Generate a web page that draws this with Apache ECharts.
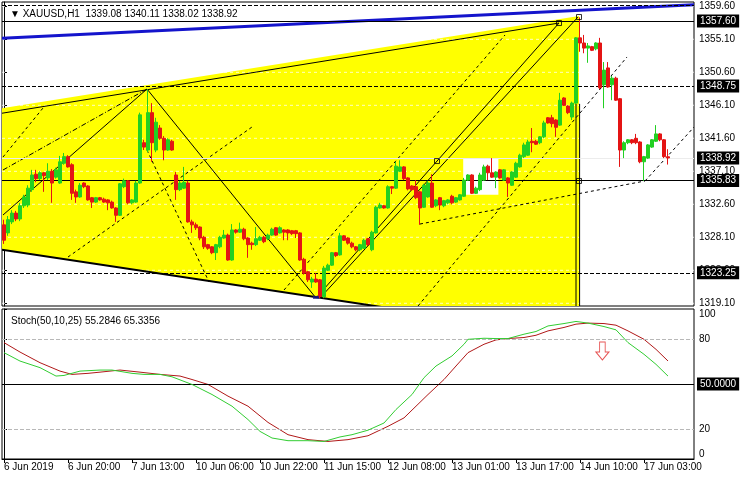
<!DOCTYPE html>
<html><head><meta charset="utf-8">
<script src="https://cdn.jsdelivr.net/npm/echarts@6/dist/echarts.min.js"></script>
<style>html,body{margin:0;padding:0;background:#fff}#c{width:740px;height:480px}</style>
</head><body><div id="c"></div>
<script>
// ---------- DATA ----------
const openP = [1329.8,1328.7,1330.2,1331.4,1330.6,1332.4,1332.5,1334.6,1336.7,1336.1,
 1336.9,1336.2,1337.1,1336.3,1335.5,1338.2,1339.1,1338.0,1334.3,1333.6,
 1335.5,1335.1,1333.5,1332.9,1333.5,1333.3,1333.2,1332.9,1332.1,1331.1,
 1335.0,1335.8,1332.8,1332.9,1335.5,1341.0,1340.0,1345.1,1340.0,1343.0,
 1341.6,1340.0,1341.2,1336.6,1334.6,1334.8,1335.5,1330.2,1329.8,1329.5,
 1328.1,1327.1,1326.8,1326.0,1326.8,1328.0,1328.4,1325.0,1329.1,1328.8,
 1329.2,1328.0,1327.3,1327.1,1327.7,1328.1,1327.9,1328.4,1329.4,1328.7,
 1329.1,1329.1,1329.0,1329.0,1328.7,1325.1,1323.4,1322.0,1322.4,1322.3,
 1320.0,1323.6,1324.3,1326.0,1325.7,1328.3,1328.0,1327.3,1326.8,1326.4,
 1326.6,1327.9,1326.4,1328.7,1332.1,1332.4,1332.1,1335.0,1334.8,1337.1,
 1337.7,1336.2,1335.1,1335.0,1334.3,1332.2,1333.6,1335.5,1332.4,1333.5,
 1332.4,1332.8,1333.7,1332.9,1333.2,1333.7,1335.9,1336.6,1334.1,1334.6,
 1335.9,1337.8,1336.9,1336.3,1337.3,1335.9,1336.2,1335.2,1336.3,1337.7,
 1339.1,1339.3,1341.2,1341.2,1341.0,1341.8,1344.4,1344.4,1344.1,1343.4,
 1347.1,1346.0,1344.5,1346.4,1355.3,1354.6,1353.9,1354.1,1353.8,1354.6,
 1348.9,1351.2,1348.9,1349.8,1347.0,1340.0,1341.0,1341.4,1341.6,1341.1,
 1338.4,1338.9,1340.4,1341.2,1342.2,1341.4,1339.08];
const closeP = [1327.7,1330.5,1331.4,1330.6,1332.4,1333.6,1334.8,1336.6,1336.1,1336.9,
 1336.5,1337.1,1335.5,1337.3,1338.4,1339.1,1337.7,1334.1,1333.6,1335.2,
 1335.0,1333.2,1332.9,1333.5,1333.2,1332.9,1332.8,1332.1,1331.1,1335.4,
 1335.8,1332.8,1333.2,1335.5,1344.8,1340.4,1345.1,1341.0,1343.8,1341.6,
 1340.0,1341.4,1340.0,1334.6,1335.5,1335.6,1330.2,1329.8,1329.4,1328.0,
 1326.8,1326.6,1326.0,1327.1,1328.1,1328.4,1325.0,1329.1,1328.8,1329.2,
 1327.9,1327.1,1327.1,1327.9,1328.1,1327.5,1328.4,1329.2,1328.4,1329.4,
 1328.8,1328.7,1328.6,1328.6,1325.0,1323.2,1322.3,1322.4,1322.0,1320.0,
 1323.9,1324.3,1326.0,1325.6,1328.3,1327.7,1327.3,1326.8,1326.4,1327.1,
 1327.7,1327.1,1328.8,1332.2,1332.5,1332.1,1335.0,1334.8,1337.8,1337.7,
 1336.1,1334.7,1334.6,1333.5,1332.1,1335.2,1335.5,1332.2,1333.2,1332.5,
 1333.1,1333.2,1332.8,1333.5,1333.9,1335.9,1336.6,1334.1,1334.8,1336.6,
 1337.7,1336.9,1336.3,1337.0,1336.2,1337.3,1335.5,1337.0,1338.2,1339.3,
 1340.7,1341.1,1341.0,1340.8,1341.8,1343.7,1343.7,1343.6,1343.1,1346.8,
 1346.1,1345.1,1346.4,1355.3,1354.6,1353.9,1354.2,1353.6,1354.6,1348.5,
 1350.9,1348.6,1349.8,1346.8,1340.0,1341.0,1341.4,1341.0,1341.0,1338.4,
 1339.1,1340.7,1341.4,1342.2,1341.4,1339.1,1338.92];
const lowP = [1327.2,1328.3,1329.9,1330.3,1330.3,1332.1,1332.2,1334.3,1335.6,1335.9,
 1334.3,1335.9,1332.8,1336.1,1335.4,1338.0,1337.6,1333.2,1332.8,1333.5,
 1334.8,1333.1,1332.1,1332.8,1333.1,1332.8,1331.8,1332.0,1330.2,1331.0,
 1334.8,1332.6,1332.6,1332.8,1335.4,1340.0,1339.7,1338.4,1339.7,1341.4,
 1338.6,1339.9,1339.9,1333.2,1334.4,1334.7,1330.1,1328.7,1329.1,1327.7,
 1326.5,1326.4,1325.8,1325.0,1326.6,1327.9,1324.9,1324.9,1328.6,1328.7,
 1327.7,1325.3,1326.4,1326.9,1327.6,1327.3,1327.7,1328.3,1328.3,1328.6,
 1327.7,1327.7,1328.4,1328.0,1324.9,1323.0,1322.0,1321.2,1321.9,1319.8,
 1319.8,1323.5,1324.2,1325.4,1325.6,1327.6,1327.1,1326.6,1326.2,1326.2,
 1326.5,1326.9,1326.2,1328.6,1332.0,1332.0,1332.0,1334.0,1334.7,1337.0,
 1335.9,1334.5,1334.4,1333.3,1329.8,1332.1,1333.5,1332.1,1332.2,1331.8,
 1332.2,1332.6,1332.6,1332.8,1333.1,1333.6,1335.8,1334.0,1334.0,1334.4,
 1335.8,1335.9,1336.2,1334.8,1336.1,1335.8,1333.6,1335.1,1336.2,1337.6,
 1338.9,1339.2,1339.7,1340.7,1340.8,1341.6,1343.6,1343.1,1341.8,1343.3,
 1346.0,1344.9,1344.1,1346.3,1353.4,1353.2,1351.9,1353.5,1353.6,1348.3,
 1345.7,1348.5,1346.8,1346.7,1337.7,1338.9,1340.8,1340.8,1340.8,1338.2,
 1335.8,1338.8,1340.3,1341.1,1341.2,1338.9,1338.02];
const highP = [1330.5,1331.0,1331.8,1331.7,1332.8,1333.9,1335.2,1337.3,1337.3,1337.1,
 1337.0,1338.2,1337.4,1337.6,1339.2,1339.6,1339.3,1338.2,1334.6,1335.5,
 1335.6,1335.2,1333.6,1333.6,1333.6,1333.5,1333.3,1333.1,1332.2,1335.5,
 1336.1,1335.9,1333.3,1335.8,1345.1,1341.4,1348.3,1346.4,1344.4,1343.4,
 1341.9,1341.6,1341.4,1337.0,1335.8,1337.7,1335.8,1330.5,1330.1,1329.6,
 1328.3,1327.2,1326.9,1327.2,1328.3,1329.1,1328.6,1329.9,1329.2,1330.1,
 1329.4,1328.1,1327.5,1329.5,1328.3,1328.3,1328.6,1329.4,1329.5,1329.6,
 1329.2,1329.2,1329.1,1329.1,1328.8,1325.3,1323.5,1322.7,1323.2,1322.4,
 1324.2,1324.5,1326.1,1326.1,1328.7,1328.4,1328.1,1327.5,1326.9,1327.2,
 1327.9,1328.0,1329.0,1332.4,1332.8,1332.5,1335.2,1335.1,1338.4,1338.6,
 1337.8,1336.3,1335.2,1335.9,1334.4,1335.4,1335.8,1336.7,1333.3,1333.6,
 1333.2,1333.3,1333.9,1333.6,1334.0,1336.2,1336.7,1336.7,1335.0,1336.9,
 1338.0,1338.0,1338.9,1337.1,1337.4,1337.4,1336.3,1337.1,1338.4,1339.5,
 1341.0,1341.4,1343.0,1341.4,1341.9,1344.0,1344.5,1344.8,1344.2,1347.8,
 1347.2,1346.1,1346.6,1355.4,1358.1,1355.7,1354.6,1354.2,1354.7,1355.3,
 1352.0,1352.0,1350.1,1350.0,1347.1,1341.2,1341.5,1341.5,1342.2,1341.2,
 1339.2,1340.8,1341.5,1343.4,1342.3,1341.5,1340.11];

const barSlots = 173; // 167 bars + right shift space
const priceTicks = [1319.10,1323.60,1328.10,1332.60,1337.10,1341.60,1346.10,1350.60,1355.10,1359.60];
const timeTickBars = [0,16,32,48,64,80,96,112,128,144,160];
const timeTickLabels = ['6 Jun 2019','6 Jun 20:00','7 Jun 13:00','10 Jun 06:00','10 Jun 22:00',
  '11 Jun 15:00','12 Jun 08:00','13 Jun 01:00','13 Jun 17:00','14 Jun 10:00','17 Jun 03:00'];

// Stochastic (50,10,25): main (%K) and signal (%D), read at sampled bars
const stochKBars = [0,4,9,13,15,19,24,27,32,35,39,42,47,52,57,61,64,67,71,76,80,84,87,91,95,98,102,105,108,112,115,116,120,123,126,130,133,136,140,143,146,150,153,156,160,163,166];
const stochK =     [70.9,65.3,60.9,55.3,55.7,58.6,59.3,59.3,57.1,56.4,56.4,54.8,49.7,43.0,35.2,26.3,18.4,14.0,12.2,12.2,11.7,14.7,16.2,19.2,24.0,33.0,43.0,54.2,62.0,68.7,76.5,79.8,80.5,80.3,80.3,83.2,85.0,88.7,90.3,91.7,90.6,88.3,86.1,77.6,69.8,63.1,55.28];
const stochDBars = [0,4,9,14,17,21,24,29,34,39,44,47,51,56,61,66,71,76,81,86,91,96,100,103,106,110,113,116,120,123,126,130,133,136,140,143,146,150,153,156,160,163,166];
const stochD =     [77.6,71.3,64.2,58.6,56.4,57.1,57.9,59.3,57.9,56.4,55.3,53.0,49.7,41.9,35.2,24.4,16.2,12.9,11.7,12.9,15.5,21.8,27.4,35.2,43.0,53.0,62.0,70.9,76.5,79.4,80.3,81.0,82.5,85.4,87.7,89.9,90.6,90.3,89.2,85.4,79.8,73.1,65.34];
const stochLevels = [20, 50, 80];

// Horizontal price lines (objects)
const hLines = [
  {price:1359.70, type:'dashed', color:'#000', label:null},
  {price:1357.60, type:'solid',  color:'#000', label:'1357.60'},
  {price:1348.75, type:'dashed', color:'#000', label:'1348.75'},
  {price:1338.92, type:'solid',  color:'#ececec', label:'1338.92'},
  {price:1335.83, type:'solid',  color:'#000', label:'1335.83'},
  {price:1323.25, type:'dashed', color:'#000', label:'1323.25'}
];

// Drawn objects in [bar, price]
const yellowZone = [[-0.5,1345.71],[143.75,1358.28],[143.75,1317.0],[113.8,1317.0],[-0.5,1326.39]];
const whiteBox = [[114.8,1338.9],[123.6,1338.9],[123.6,1333.9],[114.8,1333.9]];
const blueLine = [[[-0.5,1355.25],[172.5,1359.8]]];
const solidThin = [
  [[-0.5,1345.02],[138.75,1357.32]],
  [[-0.25,1331.14],[35.75,1348.32]],
  [[35.75,1348.32],[78,1319.82]],
  [[78,1319.82],[138.75,1357.32]],
  [[79,1319.82],[143.5,1358.14]],
  [[143.0,1346.3],[143.0,1317.0]],
  [[143.9,1346.3],[143.9,1317.0]]
];
const solidThick = [[[-0.5,1326.39],[113.8,1317.0]]];
const dashedLines = [
  [[35.75,1340.0],[51.25,1322.0]],
  [[16,1325.41],[62,1343.14]],
  [[-0.25,1339.05],[9.75,1345.73]],
  [[70,1320.91],[125.25,1355.69]],
  [[103.5,1318.73],[155.75,1352.69]],
  [[160.25,1335.78],[172.75,1343.28]],
  [[104,1329.91],[160.25,1335.78]]
];
const dashDotLines = [[[-0.25,1337.28],[35.75,1348.32]]];
const squareMarks = [[108.25,1338.5],[138.75,1357.32],[143.75,1358.14],[143.75,1335.78]];
const lowMark = [[78,1319.9]];
const arrowMark = [[149.6,72]];

// ---------- CHART ----------
const FONT = 'Liberation Sans, Arial, sans-serif';
const chart = echarts.init(document.getElementById('c'), null, {renderer:'canvas'});
const candles = openP.map((o,i)=>[o, closeP[i], lowP[i], highP[i]]);
const cats = Array.from({length:barSlots}, (_,i)=>String(i));

function segSeries(segs, style, z){
  return {type:'custom', xAxisIndex:1, yAxisIndex:0, z:z, clip:true, silent:true, animation:false,
    data: segs.map(s=>[s[0][0],s[0][1],s[1][0],s[1][1]]),
    encode:{x:[0,2], y:[1,3]},
    renderItem:(params, api)=>{
      const a = api.coord([api.value(0), api.value(1)]);
      const b = api.coord([api.value(2), api.value(3)]);
      return {type:'line', shape:{x1:a[0],y1:a[1],x2:b[0],y2:b[1]}, style:Object.assign({fill:null}, style)};
    }};
}
function polySeries(points, fill, z){
  return {type:'custom', xAxisIndex:1, yAxisIndex:0, z:z, clip:true, silent:true, animation:false,
    data:[[points[0][0], points[0][1]]],
    renderItem:(params, api)=>({type:'polygon', shape:{points: points.map(p=>api.coord(p))}, style:{fill:fill}})};
}
const gridSegs = priceTicks.map(p=>[[-0.5,p],[172.5,p]]);

const option = {
  animation:false,
  backgroundColor:'#fff',
  title:[
    {text:'▼ XAUUSD,H1  1339.08 1340.11 1338.02 1338.92', left:5, top:4,
     textStyle:{fontSize:10, fontWeight:'normal', color:'#000', fontFamily:FONT}},
    {text:'Stoch(50,10,25) 55.2846 65.3356', left:6, top:311,
     textStyle:{fontSize:10, fontWeight:'normal', color:'#000', fontFamily:FONT}}
  ],
  grid:[
    {left:2, top:2, width:692, height:304, show:true, borderColor:'#000', borderWidth:1, backgroundColor:'#fff'},
    {left:2, top:309, width:692, height:150, show:true, borderColor:'#000', borderWidth:1, backgroundColor:'#fff'}
  ],
  xAxis:[
    {type:'category', gridIndex:0, data:cats, boundaryGap:true, axisLine:{show:false}, axisTick:{show:false}, axisLabel:{show:false}, splitLine:{show:false}},
    {type:'value', gridIndex:0, min:-0.5, max:172.5, show:false},
    {type:'value', gridIndex:1, min:-0.5, max:172.5,
     axisLine:{show:true, lineStyle:{color:'#000'}},
     axisTick:{show:true, customValues:timeTickBars, length:4, lineStyle:{color:'#000'}},
     axisLabel:{show:true, customValues:timeTickBars, align:'left', margin:3, fontSize:10, color:'#000', fontFamily:FONT,
       formatter:(v)=>{const k = timeTickBars.indexOf(Math.round(v)); return k>=0 ? timeTickLabels[k] : '';}},
     splitLine:{show:false}}
  ],
  yAxis:[
    {type:'value', gridIndex:0, position:'right', min:1318.73, max:1360.19, scale:true,
     axisLine:{show:true, lineStyle:{color:'#000'}},
     axisTick:{show:true, customValues:priceTicks, length:3, lineStyle:{color:'#000'}},
     axisLabel:{show:true, customValues:priceTicks, margin:5, fontSize:10, color:'#000', fontFamily:FONT,
       formatter:(v)=>v.toFixed(2)},
     splitLine:{show:false}},
    {type:'value', gridIndex:1, position:'right', min:0, max:100,
     axisLine:{show:true, lineStyle:{color:'#000'}},
     axisTick:{show:true, customValues:[0,20,80,100], length:3, lineStyle:{color:'#000'}},
     axisLabel:{show:true, customValues:[0,20,80,100], margin:5, fontSize:10, color:'#000', fontFamily:FONT,
       verticalAlignMinLabel:'bottom', verticalAlignMaxLabel:'top'},
     splitLine:{show:false}}
  ],
  series:[
    polySeries(yellowZone, '#ffff00', 1),
    polySeries(whiteBox, '#ffffff', 1),
    segSeries(gridSegs, {stroke:'rgba(255,255,255,0.75)', lineWidth:1, lineDash:[3,3]}, 2),
    segSeries(blueLine, {stroke:'#1414cc', lineWidth:3}, 3),
    segSeries(solidThin, {stroke:'#000', lineWidth:1}, 3),
    segSeries(solidThick, {stroke:'#000', lineWidth:2}, 3),
    segSeries(dashedLines, {stroke:'#000', lineWidth:1, lineDash:[3,3]}, 3),
    segSeries(dashDotLines, {stroke:'#000', lineWidth:1, lineDash:[5,2,1,2]}, 3),
    {type:'candlestick', xAxisIndex:0, yAxisIndex:0, z:5, data:candles, barWidth:3,
     itemStyle:{color:'#22d022', color0:'#e41414', borderColor:'#22d022', borderColor0:'#e41414', borderWidth:1},
     markLine:{silent:true, symbol:['none','none'], animation:false,
       label:{show:true, position:'end', distance:3, color:'#fff', backgroundColor:'#000', padding:[2,3,1,3], fontSize:10, fontFamily:FONT},
       data: hLines.map(h=>({yAxis:h.price, lineStyle:{color:h.color, type:h.type, width:1},
         label: h.label ? {show:true, formatter:h.label} : {show:false}}))}},
    {type:'scatter', xAxisIndex:1, yAxisIndex:0, z:6, silent:true, symbol:'rect', symbolSize:5, data:squareMarks,
     itemStyle:{color:'rgba(0,0,0,0)', borderColor:'#000', borderWidth:1}},
    {type:'scatter', xAxisIndex:1, yAxisIndex:0, z:6, silent:true, symbol:'rect', symbolSize:[6,3], data:lowMark,
     itemStyle:{color:'#1a1a8c'}},
    {type:'line', xAxisIndex:2, yAxisIndex:1, showSymbol:false, silent:true, z:4,
     data: stochDBars.map((b,i)=>[b, stochD[i]]), lineStyle:{color:'#b01818', width:1},
     markLine:{silent:true, symbol:['none','none'], animation:false,
       data: stochLevels.map(l=>({yAxis:l,
         lineStyle: l===50 ? {color:'#000', type:'solid', width:1} : {color:'#b8b8b8', type:'dashed', width:1},
         label: l===50 ? {show:true, position:'end', distance:3, formatter:'50.0000', color:'#fff', backgroundColor:'#000', padding:[2,3,1,3], fontSize:10, fontFamily:FONT} : {show:false}}))}},
    {type:'line', xAxisIndex:2, yAxisIndex:1, showSymbol:false, silent:true, z:5,
     data: stochKBars.map((b,i)=>[b, stochK[i]]), lineStyle:{color:'#32cd32', width:1}},
    {type:'scatter', xAxisIndex:2, yAxisIndex:1, z:6, silent:true, data:arrowMark,
     symbol:'path://M4,0 L10,0 L10,10 L14,10 L7,18 L0,10 L4,10 Z', symbolSize:[13,18],
     itemStyle:{color:'#fff', borderColor:'#e02828', borderWidth:1}}
  ]
};
chart.setOption(option);
</script></body></html>
